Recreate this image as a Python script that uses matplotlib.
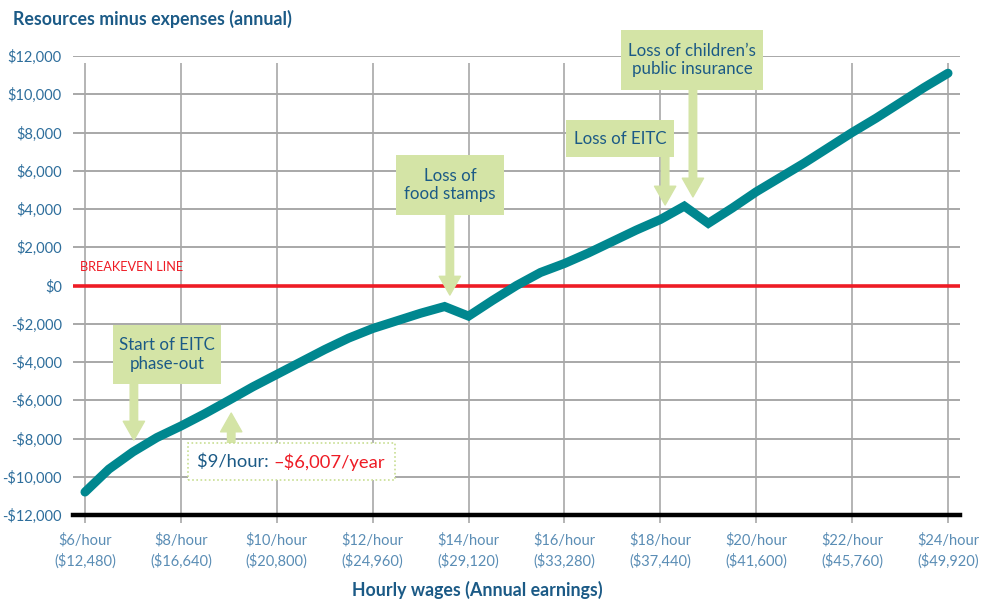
import numpy as np
import matplotlib.pyplot as plt
from matplotlib.patches import Rectangle

# hourly wage ($/hour) and resources minus expenses ($/year)
wages = [6, 6.5, 7, 7.5, 8, 8.5, 9, 9.5, 10, 10.5, 11, 11.5, 12, 12.5, 13,
         13.5, 14, 14.5, 15, 15.5, 16, 16.5, 17, 17.5, 18, 18.5, 19, 19.5,
         20, 20.5, 21, 21.5, 22, 22.5, 23, 23.5, 24]
net = [-10800, -9600, -8700, -7950, -7350, -6700, -6007, -5300, -4650, -4000,
       -3350, -2750, -2250, -1850, -1450, -1100, -1600, -780, 0, 680,
       1150, 1700, 2300, 2900, 3450, 4150, 3250, 4050, 4900, 5650,
       6400, 7200, 8000, 8750, 9550, 10350, 11100]

xticks = [6, 8, 10, 12, 14, 16, 18, 20, 22, 24]
xlabels = ["$6/hour\n($12,480)", "$8/hour\n($16,640)", "$10/hour\n($20,800)",
           "$12/hour\n($24,960)", "$14/hour\n($29,120)", "$16/hour\n($33,280)",
           "$18/hour\n($37,440)", "$20/hour\n($41,600)", "$22/hour\n($45,760)",
           "$24/hour\n($49,920)"]
yticks = list(range(-12000, 12001, 2000))

TEAL = "#00878f"
RED = "#ee1c25"
NAVY = "#1b5a86"
TICKBLUE = "#2e6e9c"
XTICKBLUE = "#5a8db5"
GREEN = "#d4e4a6"
GRID = "#a8a8a8"

plt.rcParams['font.family'] = ['Lato', 'DejaVu Sans']

fig = plt.figure(figsize=(9.94, 6), dpi=100)
ax = fig.add_axes([73 / 994, 85 / 600, 887 / 994, 459 / 600])
ax.set_xlim(5.75, 24.25)
ax.set_ylim(-12000, 12000)
for s in ax.spines.values():
    s.set_visible(False)

# grid
for y in yticks:
    if y in (0, -12000):
        continue
    ax.axhline(y, color=GRID, lw=1.4, zorder=1)
ax.vlines(xticks, -12400, 11650, color=GRID, lw=1.2, zorder=1, clip_on=False)
ax.axhline(-12000, color="black", lw=3.2, zorder=3, clip_on=False)
ax.axhline(0, color=RED, lw=2.6, zorder=2)
ax.text(5.9, 650, "BREAKEVEN LINE", color=RED, fontsize=9.2, va="bottom", ha="left")

ax.set_yticks(yticks)
ax.set_yticklabels([("-$%s" % format(-v, ",")) if v < 0 else "$%s" % format(v, ",") for v in yticks])
ax.set_xticks(xticks)
ax.set_xticklabels(xlabels, linespacing=1.45)
ax.tick_params(axis="y", length=0, pad=8, labelsize=10.5, labelcolor=TICKBLUE)
ax.tick_params(axis="x", length=0, pad=13, labelsize=10.5, labelcolor=XTICKBLUE)

# annotation boxes and arrows
arrow_kw = dict(arrowstyle="simple,head_length=0.75,head_width=0.85,tail_width=0.3",
                color=GREEN, mutation_scale=18, shrinkA=0, shrinkB=0)

def box(x0, x1, y0, y1, text, **kw):
    ax.add_patch(Rectangle((x0, y0), x1 - x0, y1 - y0, facecolor=GREEN,
                           edgecolor="none", zorder=5, clip_on=False))
    ax.text((x0 + x1) / 2, (y0 + y1) / 2, text, ha="center", va="center",
            color=NAVY, fontsize=12.2, linespacing=1.2, zorder=6, clip_on=False)

def arrow(x, y_from, y_to):
    ax.annotate("", xy=(x, y_to), xytext=(x, y_from), arrowprops=arrow_kw,
                zorder=4, annotation_clip=False)

box(6.58, 8.84, -5150, -2065, "Start of EITC\nphase-out")
arrow(7.02, -5150, -8080)

box(12.49, 14.74, 3690, 6820, "Loss of\nfood stamps")
arrow(13.61, 3690, -500)

box(16.03, 18.28, 6720, 8650, "Loss of EITC")
arrow(18.10, 6720, 4210)

box(17.18, 20.14, 10220, 13360, "Loss of children\u2019s\npublic insurance")
arrow(18.68, 10220, 4630)

# $9/hour callout
ax.add_patch(Rectangle((8.15, -10170), 12.47 - 8.15, 10170 - 8240, facecolor="white",
                       edgecolor="#c8de92", lw=1.2, ls=(0, (1, 1.5)), zorder=5))
arrow(9.05, -8240, -6670)
t1 = ax.text(8.33, -9230, "$9/hour: ", color=NAVY, fontsize=13.2, va="center",
             ha="left", zorder=6)
ax.annotate("\u2013$6,007/year", xycoords=t1, xy=(1, 0.5), va="center", ha="left",
            color=RED, fontsize=13.2, zorder=6)

# main line
ax.plot(wages, net, color=TEAL, lw=6.5, solid_capstyle="round",
        solid_joinstyle="miter", zorder=7)

fig.text(13 / 994, 1 - 19 / 600, "Resources minus expenses (annual)", color=NAVY,
         fontsize=12.8, fontweight="bold", va="center", ha="left")
fig.text(477 / 994, 1 - 590 / 600, "Hourly wages (Annual earnings)", color=NAVY,
         fontsize=12.8, fontweight="bold", va="center", ha="center")

fig.savefig("out.png", dpi=100)
